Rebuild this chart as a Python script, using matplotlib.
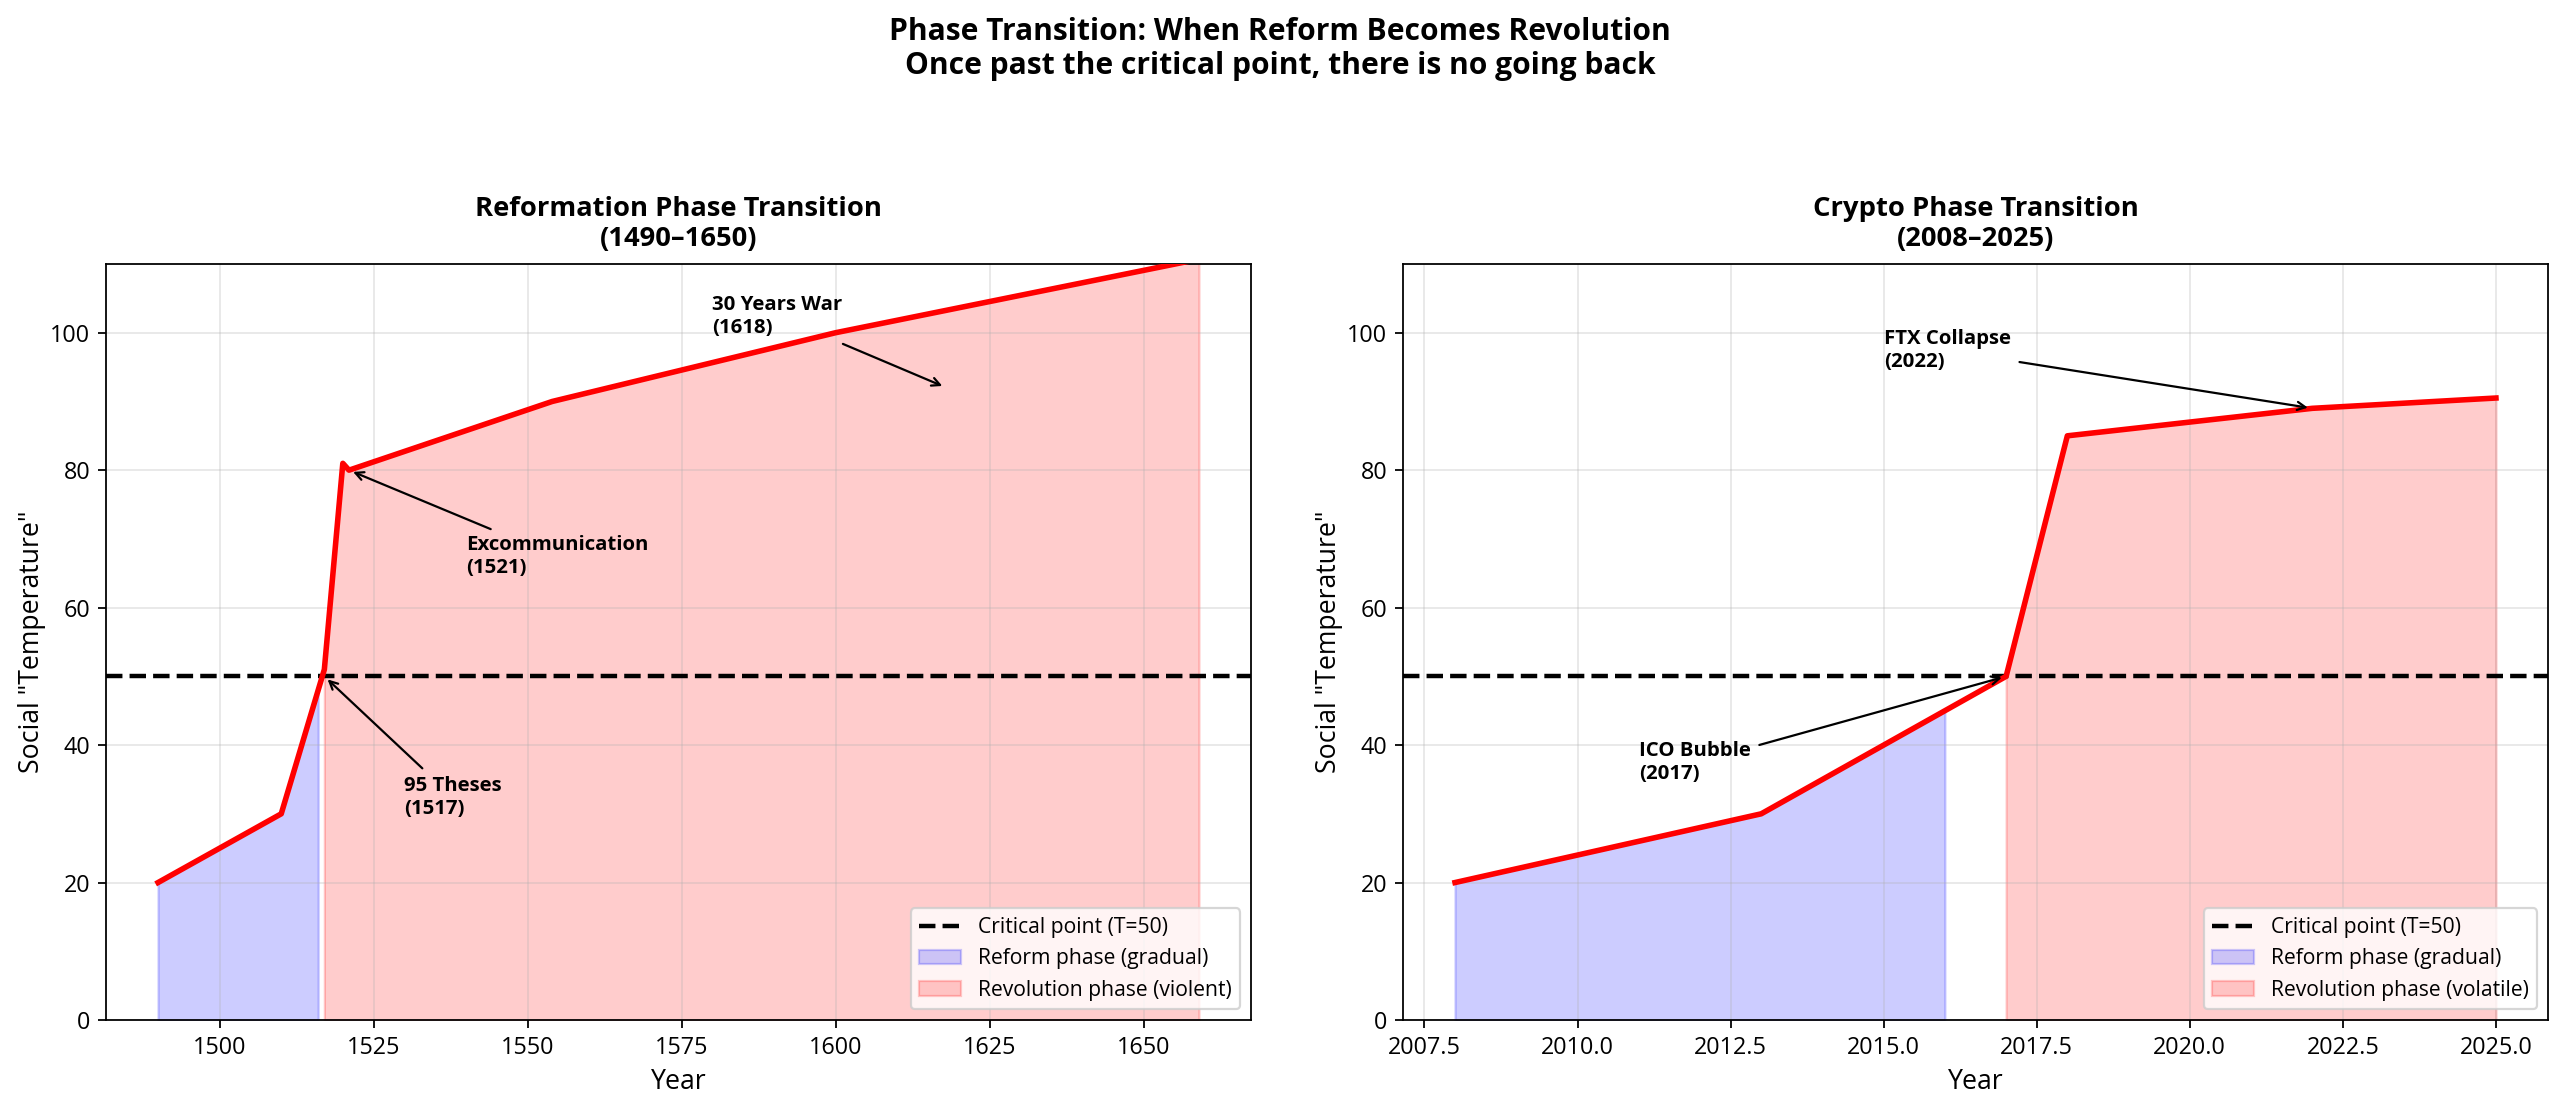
import numpy as np
import matplotlib
matplotlib.use("Agg")
import matplotlib.pyplot as plt

plt.rcParams['font.family'] = ['Open Sans', 'DejaVu Sans']

# ---- Data: Reformation ----
ref_years = [1490, 1510, 1516, 1517, 1520, 1521, 1554, 1600, 1659]
ref_temp = [20, 30, 48, 51, 81, 80, 90, 100, 110.7]
ref_threshold_year = 1517

# ---- Data: Crypto ----
cry_years = [2008, 2013, 2016, 2017, 2018, 2022, 2025]
cry_temp = [20, 30, 45, 50, 85, 89, 90.5]
cry_threshold_year = 2017

critical_T = 50

ref_events = ["95 Theses\n(1517)", "Excommunication\n(1521)", "30 Years War\n(1618)"]
ref_event_xy = [(1517, 50), (1521, 80), (1618, 92)]
ref_event_text = [(1530, 30), (1540, 65), (1580, 100)]

cry_events = ["ICO Bubble\n(2017)", "FTX Collapse\n(2022)"]
cry_event_xy = [(2017, 50), (2022, 89)]
cry_event_text = [(2011, 35), (2015, 95)]

W, H = 2560, 1110
fig = plt.figure(figsize=(16, H / 160), dpi=160)

ax1 = fig.add_axes([106 / W, 1 - 1020 / H, 1145 / W, 756 / H])
ax2 = fig.add_axes([1403 / W, 1 - 1020 / H, 1145 / W, 756 / H])


def draw(ax, years, temp, thr, title, rev_label, events, exy, etxt):
    years = np.array(years, dtype=float)
    temp = np.array(temp, dtype=float)
    ax.plot(years, temp, color='red', lw=2.5, zorder=3)
    ax.axhline(critical_T, color='black', ls='--', lw=2, label='Critical point (T=50)')
    ax.fill_between(years, 0, temp, where=years < thr, color='blue', alpha=0.2,
                    label='Reform phase (gradual)')
    ax.fill_between(years, 0, temp, where=years >= thr, color='red', alpha=0.2,
                    label=rev_label)
    for lab, xy, xt in zip(events, exy, etxt):
        ax.annotate(lab, xy=xy, xytext=xt, fontsize=9.2, fontweight='bold',
                    arrowprops=dict(arrowstyle='->', color='black', lw=1))
    ax.set_ylim(0, 110)
    ax.set_xlabel('Year', fontsize=12)
    ax.set_ylabel('Social "Temperature"', fontsize=12, labelpad=2)
    ax.set_title(title, fontsize=12.3, fontweight='bold', pad=8)
    ax.grid(True, alpha=0.3)
    ax.tick_params(labelsize=10.5)
    ax.legend(loc='lower right', fontsize=9.5)


draw(ax1, ref_years, ref_temp, ref_threshold_year,
     'Reformation Phase Transition\n(1490–1650)', 'Revolution phase (violent)',
     ref_events, ref_event_xy, ref_event_text)
draw(ax2, cry_years, cry_temp, cry_threshold_year,
     'Crypto Phase Transition\n(2008–2025)', 'Revolution phase (volatile)',
     cry_events, cry_event_xy, cry_event_text)

fig.suptitle('Phase Transition: When Reform Becomes Revolution\n'
             'Once past the critical point, there is no going back',
             fontsize=13.5, fontweight='bold', y=0.985)

fig.savefig('out.png', dpi=160)
